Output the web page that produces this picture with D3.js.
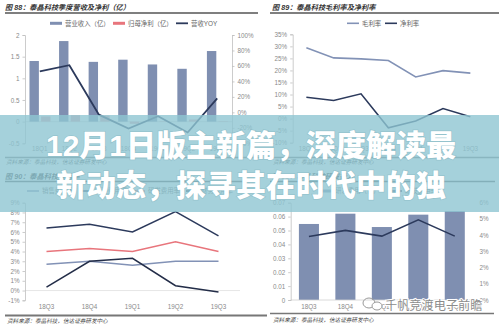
<!DOCTYPE html>
<html><head><meta charset="utf-8">
<script src="https://cdn.jsdelivr.net/npm/d3@7"></script>
<style>
html,body{margin:0;padding:0;background:#fff;}
svg{display:block;}
text{font-family:"Liberation Sans","Noto Sans CJK SC",sans-serif;}
</style></head>
<body>
<script>
// ---------- data ----------
const tlCats = ["18Q1","18Q2","18Q3","18Q4","19Q1","19Q2","19Q3"];
const tlRevenue = [1.40, 1.86, 1.38, 1.43, 1.32, 1.22, 1.63];
const tlProfit = [0.12, 0.15, 0.14, -0.05, 0.01, 0.05, 0.01];
const tlYoy = [53, 61, -3, -21, -5, -26, 18];
const tlLeftTicks = [-0.5, 0, 0.5, 1, 1.5, 2];
const tlRightTicks = [-40, -20, 0, 20, 40, 60, 80, 100];

const trCats = ["18Q1","18Q2","18Q3","18Q4","19Q1","19Q2","19Q3"];
const trGross = [29.4, 25.2, 24.8, 24.1, 17.3, 19.9, 18.9];
const trNet = [8.9, 7.5, 10.3, -3.8, -1.0, 4.2, 0.8];
const trTicks = [-10, -5, 0, 5, 10, 15, 20, 25, 30, 35];

const blCats = ["18Q3","18Q4","19Q1","19Q2","19Q3"];
const blSales = [2.7, 3.0, 2.6, 3.0, 3.0];
const blAdmin = [6.4, 6.8, 6.0, 8.1, 5.6];
const blRD = [4.0, 4.3, 4.0, 5.0, 4.0];
const blFin = [0.35, 3.0, 3.3, 0.5, -0.15];
const blTicks = [-1, 0, 1, 2, 3, 4, 5, 6, 7, 8, 9];

const brCats = ["18Q3","18Q4","19Q1","19Q2","19Q3"];
const brRD = [0.0547, 0.0621, 0.0525, 0.0614, 0.0640];
const brRate = [3.92, 4.29, 3.94, 4.94, 3.94];
const brLeftTicks = [0, 0.01, 0.02, 0.03, 0.04, 0.05, 0.06, 0.07];
const brRightTicks = [0, 1, 2, 3, 4, 5, 6];

const titles = ["图 88：泰晶科技季度营收及净利（亿）","图 89：泰晶科技毛利率及净利率","图 90：泰晶科技费用率","图 91：泰晶科技研发投入"];
const source = "资料来源：泰晶科技，信达证券研发中心";
const headline = ["12月1日版主新篇，深度解读最","新动态，探寻其在时代中的独"];
const watermark = "千帆竞渡电子前瞻";

// ---------- style ----------
const C = {bar:"#7f8fb1", pink:"#e2a7ae", red:"#e8757c", navy:"#2c3a5c", grey:"#8292b6", axis:"#bfbfbf", lab:"#8a8a8a"};

const svg = d3.select("body").append("svg").attr("width",499).attr("height",329);

function yAxis(g, scale, ticks, fmt, x, side){
  const ax = (side==="right"? d3.axisRight(scale) : d3.axisLeft(scale))
     .tickValues(ticks).tickFormat(fmt).tickSize(2.5).tickPadding(3);
  const a = g.append("g").attr("transform",`translate(${x},0)`).call(ax);
  a.select(".domain").attr("stroke",C.axis).attr("stroke-width",0.8);
  a.selectAll(".tick line").attr("stroke",C.axis).attr("stroke-width",0.8);
  a.selectAll(".tick text").attr("fill",C.lab).attr("font-size",6.3).attr("font-family","Liberation Sans, sans-serif");
  return a;
}
function xLabels(g, scale, cats, y){
  g.selectAll(null).data(cats).enter().append("text")
   .attr("x",d=>scale(d)+scale.bandwidth()/2).attr("y",y)
   .attr("text-anchor","middle").attr("font-size",6.3).attr("fill",C.lab).text(d=>d);
}
function title(g, txt, x, y, x1, x2){
  g.append("text").attr("x",x).attr("y",y).attr("font-size",7.2).attr("font-weight","bold")
   .attr("font-style","italic").attr("fill","#333").attr("font-family","Noto Sans CJK SC").text(txt);
  g.append("line").attr("x1",x1).attr("x2",x2).attr("y1",y+3).attr("y2",y+3).attr("stroke","#555").attr("stroke-width",1.4);
}
function src(g, x, y){
  g.append("text").attr("x",x).attr("y",y).attr("font-size",5.6).attr("font-style","italic")
   .attr("fill","#444").attr("font-family","Noto Sans CJK SC").text(source);
}
function legendItem(g, x, y, color, label, thick){
  g.append("line").attr("x1",x).attr("x2",x+12).attr("y1",y).attr("y2",y).attr("stroke",color).attr("stroke-width",thick||1.6);
  g.append("text").attr("x",x+15).attr("y",y+2.3).attr("font-size",6.4).attr("fill","#666").attr("font-family","Noto Sans CJK SC").text(label);
}
const line = (xs, ys) => d3.line().x((d,i)=>xs(i)).y(d=>ys(d));

// ---------- top-left ----------
{
  const g = svg.append("g");
  title(g, titles[0], 5, 10, 5, 258);
  legendItem(g, 50, 23.3, C.bar, "营业收入（亿）", 3);
  legendItem(g, 113, 23.3, C.red, "归母净利（亿）", 3);
  legendItem(g, 176, 23.3, C.navy, "营收YOY", 1.8);
  const x = d3.scaleBand().domain(tlCats).range([25,232]);
  const yL = d3.scaleLinear().domain([-0.5,2]).range([143.3,35]);
  const yR = d3.scaleLinear().domain([-40,100]).range([143.3,35]);
  g.append("line").attr("x1",25).attr("x2",232).attr("y1",yL(0)).attr("y2",yL(0)).attr("stroke","#d9d9d9").attr("stroke-width",0.8);
  const cx = d => x(d)+x.bandwidth()/2;
  g.selectAll(null).data(tlRevenue).enter().append("rect")
   .attr("x",(d,i)=>cx(tlCats[i])-10.3).attr("width",9.4)
   .attr("y",d=>yL(Math.max(0,d))).attr("height",d=>Math.abs(yL(d)-yL(0))).attr("fill",C.bar);
  g.selectAll(null).data(tlProfit).enter().append("rect")
   .attr("x",(d,i)=>cx(tlCats[i])+1.3).attr("width",9.4)
   .attr("y",d=>yL(Math.max(0,d))).attr("height",d=>Math.abs(yL(d)-yL(0))).attr("fill",C.pink);
  yAxis(g, yL, tlLeftTicks, d=>d, 25, "left");
  yAxis(g, yR, tlRightTicks, d=>d+"%", 232, "right");
  g.append("path").datum(tlYoy).attr("d",line(i=>cx(tlCats[i]), yR)).attr("fill","none").attr("stroke",C.navy).attr("stroke-width",1.8);
  xLabels(g, x, tlCats, 151);
  g.append("line").attr("x1",5).attr("x2",260).attr("y1",157.5).attr("y2",157.5).attr("stroke","#777").attr("stroke-width",1.6);
  src(g, 6, 164);
}

// ---------- top-right ----------
{
  const g = svg.append("g");
  title(g, titles[1], 272, 10, 270, 499);
  legendItem(g, 347, 23.3, C.grey, "毛利率", 1.6);
  legendItem(g, 385, 23.3, C.navy, "净利率", 1.6);
  const x = d3.scaleBand().domain(trCats).range([292.7,484]);
  const y = d3.scaleLinear().domain([-10,35]).range([142.7,34.3]);
  const cx = i => x(trCats[i])+x.bandwidth()/2;
  yAxis(g, y, trTicks, d=>d+"%", 292.7, "left");
  g.append("path").datum(trGross).attr("d",line(cx,y)).attr("fill","none").attr("stroke",C.grey).attr("stroke-width",1.6);
  g.append("path").datum(trNet).attr("d",line(cx,y)).attr("fill","none").attr("stroke",C.navy).attr("stroke-width",1.6);
  xLabels(g, x, trCats, 151);
  g.append("line").attr("x1",268).attr("x2",499).attr("y1",157.5).attr("y2",157.5).attr("stroke","#777").attr("stroke-width",1.6);
  src(g, 273, 164);
}

// ---------- bottom-left ----------
{
  const g = svg.append("g");
  title(g, titles[2], 5, 178.5, 5, 246);
  legendItem(g, 27, 191, C.grey, "销售费用率", 1.6);
  legendItem(g, 80, 191, C.navy, "管理费用率", 1.6);
  legendItem(g, 133, 191, C.red, "研发费用率", 1.6);
  legendItem(g, 186, 191, "#232d48", "财务费用率", 1.6);
  const x = d3.scaleBand().domain(blCats).range([25,240]);
  const y = d3.scaleLinear().domain([-1,9]).range([300.3,202.7]);
  const cx = i => x(blCats[i])+x.bandwidth()/2;
  g.append("line").attr("x1",25).attr("x2",240).attr("y1",y(0)).attr("y2",y(0)).attr("stroke","#e3e3e3").attr("stroke-width",0.9);
  yAxis(g, y, blTicks, d=>d+"%", 25, "left");
  [[blSales,C.grey],[blRD,C.red],[blAdmin,C.navy],[blFin,"#232d48"]].forEach(([s,c])=>{
    g.append("path").datum(s).attr("d",line(cx,y)).attr("fill","none").attr("stroke",c).attr("stroke-width",1.5);
  });
  xLabels(g, x, blCats, 309);
  g.append("line").attr("x1",5).attr("x2",267).attr("y1",315.5).attr("y2",315.5).attr("stroke","#777").attr("stroke-width",1.8);
  src(g, 7, 323);
}

// ---------- bottom-right ----------
{
  const g = svg.append("g");
  title(g, titles[3], 272, 178.5, 270, 495);
  legendItem(g, 320, 191, C.bar, "研发费用（亿）", 3);
  legendItem(g, 390, 191, C.navy, "研发费用率", 1.6);
  const x = d3.scaleBand().domain(brCats).range([290.7,473]).paddingInner(0.45).paddingOuter(0.225);
  const yL = d3.scaleLinear().domain([0,0.07]).range([300,202.7]);
  const yR = d3.scaleLinear().domain([0,6]).range([300,202.7]);
  g.selectAll(null).data(brRD).enter().append("rect")
   .attr("x",(d,i)=>x(brCats[i])).attr("width",x.bandwidth())
   .attr("y",d=>yL(d)).attr("height",d=>yL(0)-yL(d)).attr("fill",C.bar);
  g.append("line").attr("x1",290.7).attr("x2",473).attr("y1",300).attr("y2",300).attr("stroke","#d0d0d0").attr("stroke-width",0.8);
  yAxis(g, yL, brLeftTicks, d=>d===0?"0":d.toFixed(2), 290.7, "left");
  const r = yAxis(g, yR, brRightTicks, d=>d+"%", 474, "right");
  r.select(".domain").remove(); r.selectAll(".tick line").remove();
  const cx = i => x(brCats[i])+x.bandwidth()/2;
  g.append("path").datum(brRate).attr("d",line(cx,yR)).attr("fill","none").attr("stroke",C.navy).attr("stroke-width",1.6);
  xLabels(g, x, brCats, 308.5);
  g.append("line").attr("x1",270).attr("x2",494).attr("y1",313.5).attr("y2",313.5).attr("stroke","#777").attr("stroke-width",1.6);
  src(g, 273, 322);
}

// ---------- overlay band & headline ----------
svg.append("rect").attr("x",0).attr("y",115).attr("width",499).attr("height",97)
   .attr("fill","#8fc6d2").attr("opacity",0.8);
svg.selectAll(null).data(headline).enter().append("text")
   .attr("x",251).attr("y",(d,i)=>145+i*40).attr("dy","0.36em")
   .attr("text-anchor","middle").attr("font-size",30).attr("font-weight",900)
   .attr("font-family","Noto Sans CJK SC").attr("fill","#fff")
   .style("paint-order","stroke").attr("stroke","rgba(120,170,180,0.35)").attr("stroke-width",1.5)
   .text(d=>d);

// ---------- watermark ----------
{
  const g = svg.append("g");
  g.append("ellipse").attr("cx",369).attr("cy",303).attr("rx",6).attr("ry",5).attr("fill","none").attr("stroke","#999").attr("stroke-width",1);
  g.append("ellipse").attr("cx",377).attr("cy",306).attr("rx",5).attr("ry",4).attr("fill","#fff").attr("stroke","#999").attr("stroke-width",1);
  g.append("text").attr("x",385).attr("y",309.5).attr("font-size",12.2).attr("font-family","Noto Sans CJK SC")
   .attr("fill","#8c8c8c").style("paint-order","stroke").attr("stroke","#fff").attr("stroke-width",2).text(watermark);
}
</script>
</body></html>
